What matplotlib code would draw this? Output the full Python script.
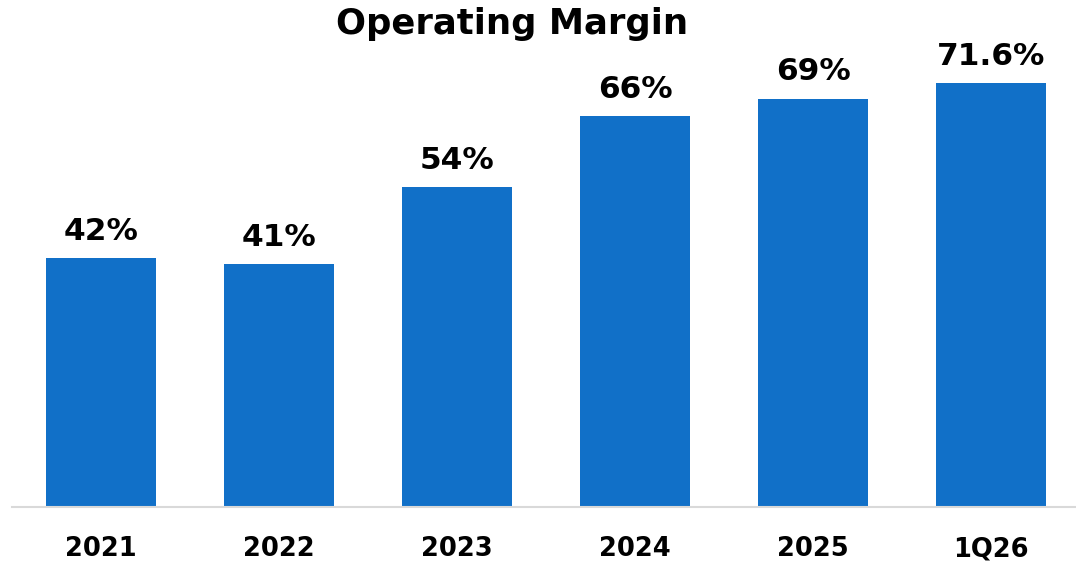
import matplotlib
matplotlib.use("Agg")
import matplotlib.pyplot as plt

categories = ["2021", "2022", "2023", "2024", "2025", "1Q26"]
values = [42, 41, 54, 66, 69, 71.6]
labels = ["42%", "41%", "54%", "66%", "69%", "71.6%"]

W, H = 1076, 563
fig = plt.figure(figsize=(W / 100, H / 100), dpi=100)
ax = fig.add_axes([12 / W, 56 / H, 1068 / W, 467 / H])
ax.bar(range(len(categories)), values, width=0.62, color="#1170C8")
ax.set_xlim(-0.5, 5.5)
ax.set_ylim(0, 467 / 5.92)
for s in ["top", "right", "left"]:
    ax.spines[s].set_visible(False)
ax.spines["bottom"].set_color("#D9D9D9")
ax.spines["bottom"].set_linewidth(1.5)
ax.set_yticks([])
ax.set_xticks(range(len(categories)))
ax.set_xticklabels(categories, fontsize=18.5, fontweight="bold", family="DejaVu Sans")
ax.tick_params(axis="x", length=0, pad=21)
for i, (v, lab) in enumerate(zip(values, labels)):
    ax.annotate(lab, (i, v), xytext=(0, 9), textcoords="offset points",
                ha="center", va="bottom", fontsize=22.5, fontweight="bold")
fig.text(512 / W, 1 - 24 / H, "Operating Margin", ha="center", va="center",
         fontsize=25.5, fontweight="bold")
fig.savefig("out.png", dpi=100)
